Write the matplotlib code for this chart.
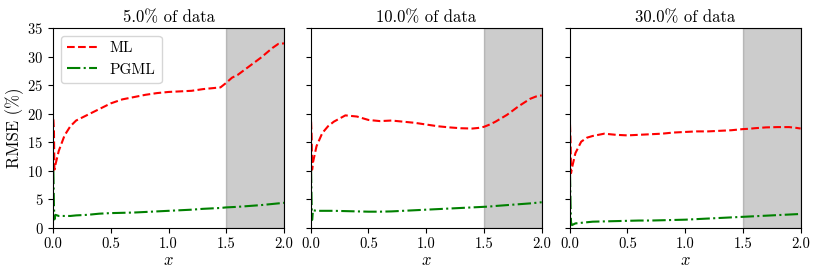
import matplotlib
matplotlib.use("Agg")
import matplotlib.pyplot as plt

plt.rcParams["font.family"] = "serif"
plt.rcParams["font.serif"] = ["cmr10"]
plt.rcParams["mathtext.fontset"] = "cm"
plt.rcParams["axes.formatter.use_mathtext"] = True

# ── data ──────────────────────────────────────
x = [0.003, 0.008, 0.012, 0.02, 0.05, 0.1, 0.15, 0.2, 0.3, 0.4, 0.5, 0.6, 0.7,
     0.8, 0.9, 1.0, 1.1, 1.2, 1.3, 1.4, 1.45, 1.5, 1.55, 1.6, 1.7, 1.8, 1.9,
     1.95, 2.0]

titles = ["5.0% of data", "10.0% of data", "30.0% of data"]
yticks = [0, 5, 10, 15, 20, 25, 30, 35]

ml_5 = [19.0, 17.0, 10.2, 11.0, 13.5, 16.2, 17.8, 18.8, 19.8, 20.8, 21.8, 22.5,
        22.9, 23.3, 23.6, 23.8, 23.9, 24.0, 24.3, 24.5, 24.6, 25.4, 26.3, 26.8,
        28.3, 29.8, 31.5, 32.2, 32.3]
pgml_5 = [10.0, 4.0, 1.5, 2.3, 2.1, 2.1, 2.1, 2.2, 2.3, 2.5, 2.6, 2.65, 2.7, 2.8,
          2.9, 3.0, 3.1, 3.2, 3.35, 3.45, 3.5, 3.6, 3.65, 3.7, 3.85, 4.0, 4.2,
          4.3, 4.4]

ml_10 = [18.6, 16.0, 10.2, 11.5, 14.3, 16.6, 17.8, 18.6, 19.7, 19.5, 18.9, 18.7,
         18.8, 18.6, 18.4, 18.1, 17.8, 17.6, 17.45, 17.4, 17.5, 17.7, 18.1, 18.6,
         19.8, 21.3, 22.6, 23.0, 23.2]
pgml_10 = [10.2, 4.0, 1.4, 3.1, 3.0, 3.0, 3.0, 3.0, 2.95, 2.9, 2.85, 2.85, 2.9,
           3.0, 3.1, 3.2, 3.3, 3.4, 3.5, 3.6, 3.65, 3.7, 3.75, 3.85, 4.0, 4.15,
           4.3, 4.4, 4.5]

ml_30 = [18.1, 15.0, 9.6, 10.5, 13.1, 15.1, 15.8, 16.1, 16.5, 16.3, 16.2, 16.3,
         16.4, 16.5, 16.7, 16.8, 16.9, 16.9, 17.0, 17.1, 17.2, 17.3, 17.35, 17.45,
         17.6, 17.65, 17.65, 17.55, 17.4]
pgml_30 = [9.5, 4.0, 1.0, 0.5, 0.8, 0.9, 1.0, 1.1, 1.15, 1.2, 1.25, 1.3, 1.3,
           1.35, 1.4, 1.45, 1.55, 1.65, 1.75, 1.85, 1.9, 1.95, 2.0, 2.05, 2.15,
           2.25, 2.35, 2.4, 2.45]

ml_all = [ml_5, ml_10, ml_30]
pgml_all = [pgml_5, pgml_10, pgml_30]

# ── figure ────────────────────────────────────
fig = plt.figure(figsize=(8.22, 2.74), dpi=100)
lefts = [0.0645, 0.378, 0.693]
axes = []
for i, left in enumerate(lefts):
    ax = fig.add_axes([left, 0.168, 0.281, 0.730],
                      sharey=axes[0] if axes else None)
    axes.append(ax)
    ax.axvspan(1.5, 2.0, color="k", alpha=0.2)
    ax.plot(x, ml_all[i], "r--", lw=1.5, label="ML")
    ax.plot(x, pgml_all[i], "g-.", lw=1.5, label="PGML")
    ax.set_xlim(0, 2)
    ax.set_ylim(0, 35)
    ax.set_yticks(yticks)
    ax.set_xticks([0, 0.5, 1.0, 1.5, 2.0])
    ax.set_xticklabels(["0.0", "0.5", "1.0", "1.5", "2.0"])
    ax.set_xlabel("$x$", fontsize=12, labelpad=1)
    ax.set_title(titles[i], fontsize=12, pad=4)
    ax.tick_params(labelsize=10.5)
    if i == 0:
        ax.set_ylabel("RMSE (%)", fontsize=12, labelpad=2)
        ax.legend(loc="upper left", fontsize=11)
    else:
        ax.tick_params(labelleft=False)

fig.savefig("out.png", dpi=100)
